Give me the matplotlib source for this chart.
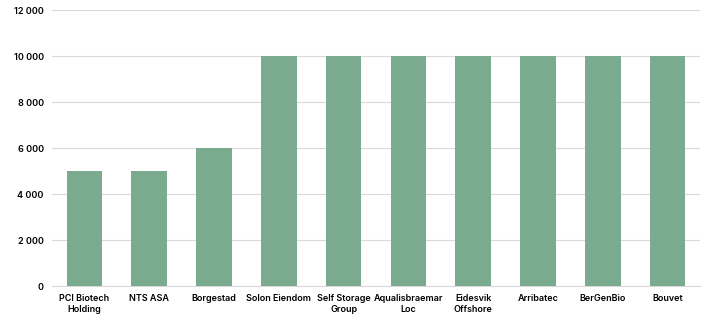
import matplotlib
matplotlib.use("Agg")
import matplotlib.pyplot as plt
from matplotlib.ticker import FuncFormatter

categories = ["PCI Biotech\nHolding", "NTS ASA", "Borgestad", "Solon Eiendom", "Self Storage\nGroup",
              "Aqualisbraemar\nLoc", "Eidesvik\nOffshore", "Arribatec", "BerGenBio", "Bouvet"]
values = [5000, 5000, 6000, 10000, 10000, 10000, 10000, 10000, 10000, 10000]
yticks = [0, 2000, 4000, 6000, 8000, 10000, 12000]

plt.rcParams['font.family'] = ['Inter', 'DejaVu Sans']
fig = plt.figure(figsize=(7.02, 3.14), dpi=100)
ax = fig.add_axes([52/702, 1 - 286/314, 648/702, 276/314])
x = range(len(categories))
ax.bar(x, values, width=0.55, color="#7aab8e", zorder=3)
ax.set_xlim(-0.5, len(categories) - 0.5)
ax.set_ylim(0, 12000)
ax.set_yticks(yticks)
ax.yaxis.set_major_formatter(FuncFormatter(lambda v, p: f"{int(v):,}".replace(",", " ")))
ax.set_xticks(list(x))
ax.set_xticklabels(categories, fontsize=6.5, fontweight="semibold", linespacing=1.3)
for lab in ax.get_yticklabels():
    lab.set_fontsize(6.5)
    lab.set_fontweight("semibold")
ax.grid(axis="y", color="#d9d9d9", linewidth=0.8, zorder=0)
for s in ["top", "right", "left"]:
    ax.spines[s].set_visible(False)
ax.spines["bottom"].set_color("#d9d9d9")
ax.tick_params(axis="both", length=0, pad=6)
ax.tick_params(axis="y", pad=6)
fig.savefig("out.png", dpi=100)
